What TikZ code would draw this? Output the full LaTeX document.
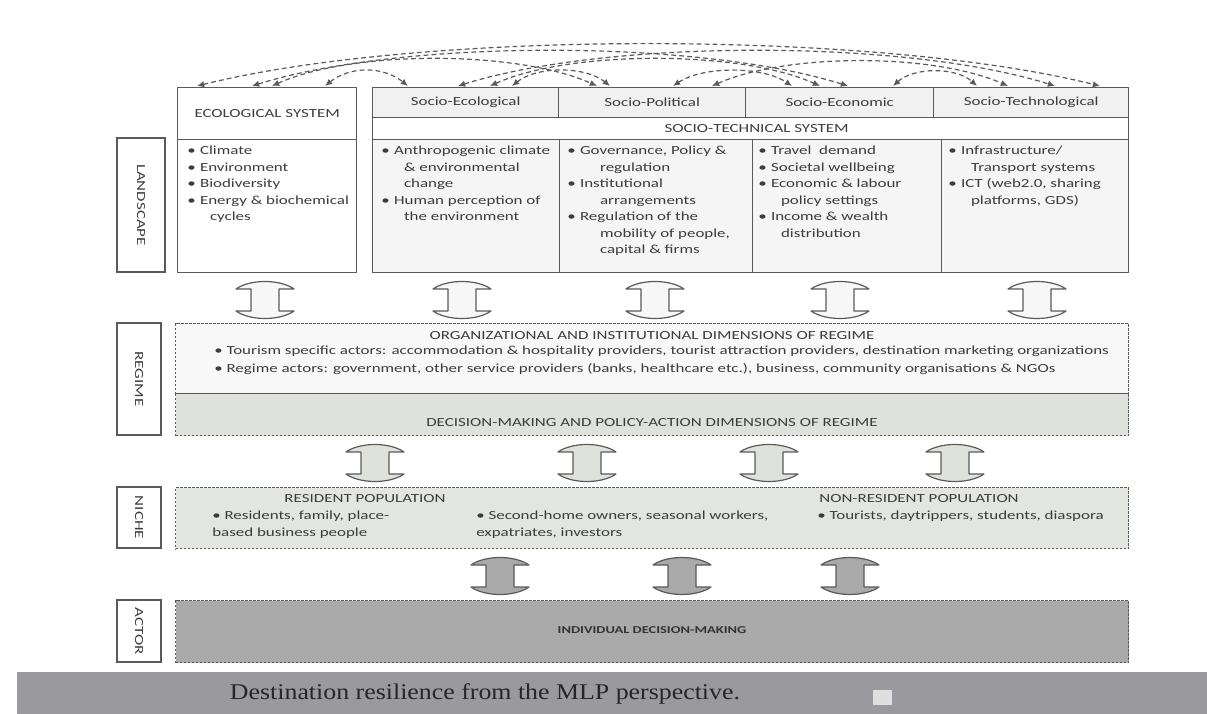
\documentclass[tikz,border=0pt]{standalone}
\usepackage{fontspec}
\setmainfont{Carlito}[FakeStretch=1.37]
\newfontfamily\capfont{Liberation Serif}[FakeStretch=1.15]
\usetikzlibrary{arrows.meta,calc}

\definecolor{boxline}{HTML}{5A5A5A}
\definecolor{txt}{HTML}{3C3C3C}
\definecolor{headfill}{HTML}{F1F1F1}
\definecolor{cellfill}{HTML}{F5F5F5}
\definecolor{orgfill}{HTML}{F8F8F8}
\definecolor{decfill}{HTML}{DFE1DC}
\definecolor{nichefill}{HTML}{E3E5E0}
\definecolor{actorfill}{HTML}{AAAAAA}
\definecolor{barfill}{HTML}{9A999E}

\begin{document}
\begin{tikzpicture}[x=0.25mm, y=-0.25mm, font=\fontsize{8.8}{11.7}\selectfont, text=txt,
  cell/.style={draw=boxline, line width=0.35mm, anchor=north west, inner sep=0pt},
  layer/.style={draw=boxline, line width=0.3mm, rotate=-90, inner sep=0pt},
  zone/.style={draw=gray!70!black, dash pattern=on 0.6mm off 0.4mm, line width=0.3mm, anchor=north west, inner sep=0pt},
  list/.style={anchor=north west, inner sep=0pt, align=left},
  link/.style={draw=boxline, dash pattern=on 1.2mm off 0.8mm, line width=0.3mm, {Latex[length=1.8mm,width=1.6mm]}-{Latex[length=1.8mm,width=1.6mm]}},
  flow/.style={draw=boxline, line width=0.3mm, line join=round}
]
\useasboundingbox (0,0) rectangle (1207,714);

% layer labels
\node[layer, minimum width=33.5mm, minimum height=12mm] (landscape) at (141,205) {LANDSCAPE};
\node[layer, minimum width=28mm, minimum height=11mm] (regime) at (139,379) {REGIME};
\node[layer, minimum width=15.25mm, minimum height=11mm] (niche) at (139,517.5) {NICHE};
\node[layer, minimum width=15.5mm, minimum height=11mm] (actor) at (139,631) {ACTOR};

% landscape
\node[cell, minimum width=44.75mm, minimum height=13mm] (ecoH) at (177,87) {\raisebox{-0.6mm}{ECOLOGICAL SYSTEM}};
\node[cell, minimum width=44.75mm, minimum height=33.25mm] (ecoB) at (177,139) {};
\node[cell, fill=headfill, minimum width=46.5mm, minimum height=7.5mm] (seH) at (372,87) {Socio-Ecological};
\node[cell, fill=headfill, minimum width=46.75mm, minimum height=7.5mm] (spH) at (558,87) {Socio-Political};
\node[cell, fill=headfill, minimum width=47mm, minimum height=7.5mm] (snH) at (745,87) {Socio-Economic};
\node[cell, fill=headfill, minimum width=48.75mm, minimum height=7.5mm] (stH) at (933,87) {Socio-Technological};
\node[cell, fill=white, minimum width=189mm, minimum height=5.5mm] (sts) at (372,117) {\hspace{3mm}SOCIO-TECHNICAL SYSTEM};
\node[cell, fill=cellfill, minimum width=46.75mm, minimum height=33.25mm] (seB) at (372,139) {};
\node[cell, fill=cellfill, minimum width=48.25mm, minimum height=33.25mm] (spB) at (559,139) {};
\node[cell, fill=cellfill, minimum width=47.25mm, minimum height=33.25mm] (snB) at (752,139) {};
\node[cell, fill=cellfill, minimum width=46.75mm, minimum height=33.25mm] (stB) at (941,139) {};

\node[list] (ecoL) at ($(ecoB.north west)+(10,4)$) {\begin{tabular}{@{}l@{\hspace{0.35em}}l@{}}
\textbullet & Climate\\ \textbullet & Environment\\ \textbullet & Biodiversity\\
\textbullet & Energy \& biochemical\\ & \hspace{2.5mm}cycles\end{tabular}};
\node[list] (seL) at ($(seB.north west)+(9,4)$) {\begin{tabular}{@{}l@{\hspace{0.35em}}l@{}}
\textbullet & Anthropogenic climate\\ & \hspace{2.5mm}\& environmental\\ & \hspace{2.5mm}change\\
\textbullet & Human perception of\\ & \hspace{2.5mm}the environment\end{tabular}};
\node[list] (spL) at ($(spB.north west)+(8,4)$) {\begin{tabular}{@{}l@{\hspace{0.35em}}l@{}}
\textbullet & Governance, Policy \&\\ & \hspace{5mm}regulation\\ \textbullet & Institutional\\ & \hspace{5mm}arrangements\\
\textbullet & Regulation of the\\ & \hspace{5mm}mobility of people,\\ & \hspace{5mm}capital \& firms\end{tabular}};
\node[list] (snL) at ($(snB.north west)+(6,4)$) {\begin{tabular}{@{}l@{\hspace{0.35em}}l@{}}
\textbullet & Travel\ \ demand\\ \textbullet & Societal wellbeing\\
\textbullet & Economic \& labour\\ & \hspace{2.5mm}policy settings\\
\textbullet & Income \& wealth\\ & \hspace{2.5mm}distribution\end{tabular}};
\node[list] (stL) at ($(stB.north west)+(7,4)$) {\begin{tabular}{@{}l@{\hspace{0.35em}}l@{}}
\textbullet & Infrastructure/\\ & \hspace{2.5mm}Transport systems\\
\textbullet & ICT (web2.0, sharing\\ & \hspace{2.5mm}platforms, GDS)\end{tabular}};

% interactions between the systems
\foreach \a/\da/\b/\db/\h/\c in {ecoH/148/seH/36/20/25, ecoH/95/spH/39/36/80,
    ecoH/75/snH/103/47/150, ecoH/20/stH/167/56/225, seH/140/spH/52/20/25,
    seH/118/snH/75/36/80, seH/86/stH/122/47/150, spH/115/snH/47/20/30,
    spH/154/stH/75/33/75, snH/148/stH/44/19/21}
  \draw[link] ($(\a.north west)+(\da,-1)$) .. controls +(\c,-\h) and +(-\c,-\h) .. ($(\b.north west)+(\db,-1)$);

% regime
\node[zone, fill=orgfill, minimum width=238.25mm, minimum height=17.5mm] (org) at (175,323) {};
\node[zone, fill=decfill, minimum width=238.25mm, minimum height=10.5mm] (dec) at (175,393) {};
\node (orgT) at (652,336) {ORGANIZATIONAL AND INSTITUTIONAL DIMENSIONS OF REGIME};
\node[list, font=\fontsize{8.8}{12.8}\selectfont] (orgL) at (214,346) {\textbullet\ Tourism specific actors: accommodation \& hospitality providers, tourist attraction providers, destination marketing organizations\\
\textbullet\ Regime actors: government, other service providers (banks, healthcare etc.), business, community organisations \& NGOs};
\node (decT) at (652,423) {DECISION-MAKING AND POLICY-ACTION DIMENSIONS OF REGIME};

% niche
\node[zone, fill=nichefill, minimum width=238.25mm, minimum height=15.25mm] (pop) at (175,487) {};
\node (resT) at (365,499) {RESIDENT POPULATION};
\node (nresT) at (919,499) {NON-RESIDENT POPULATION};
\node[list] (resL) at (212,511) {\textbullet\ Residents, family, place-\\based business people};
\node[list] (secL) at (476,511) {\textbullet\ Second-home owners, seasonal workers,\\expatriates, investors};
\node[list] (nresL) at (817,511) {\textbullet\ Tourists, daytrippers, students, diaspora};

% actor
\node[zone, fill=actorfill, minimum width=238.25mm, minimum height=15.5mm] (ind) at (175,600) {};
\node[font=\fontsize{7.5}{9}\selectfont\bfseries, text=black!80] (indT) at (652,630) {INDIVIDUAL DECISION-MAKING};

% block arrows between levels
\foreach \x [count=\i] in {265,462,655,840,1037} {
  \coordinate (up\i) at (\x,300);
  \draw[flow, fill=white!97!black, shift={(up\i)}] (-14,-11) -- (-29,-11) .. controls (-15,-21) and (15,-21) .. (29,-11) -- (14,-11) -- (14,11) -- (29,11) .. controls (15,21) and (-15,21) .. (-29,11) -- (-14,11) -- cycle;
}
\foreach \x [count=\i] in {375,587,769,955} {
  \coordinate (mid\i) at (\x,463);
  \draw[flow, fill=decfill, shift={(mid\i)}] (-14,-11) -- (-29,-11) .. controls (-15,-21) and (15,-21) .. (29,-11) -- (14,-11) -- (14,11) -- (29,11) .. controls (15,21) and (-15,21) .. (-29,11) -- (-14,11) -- cycle;
}
\foreach \x [count=\i] in {500,682,850} {
  \coordinate (low\i) at (\x,576);
  \draw[flow, fill=actorfill, shift={(low\i)}] (-14,-11) -- (-29,-11) .. controls (-15,-21) and (15,-21) .. (29,-11) -- (14,-11) -- (14,11) -- (29,11) .. controls (15,21) and (-15,21) .. (-29,11) -- (-14,11) -- cycle;
}

% caption
\fill[barfill] (17,672) rectangle (1207,714);
\node[anchor=west, font=\capfont\fontsize{16}{18}\selectfont, text=black!85] (cap) at (225,694) {Destination resilience from the MLP perspective.};
\fill[gray!25] (873,690) rectangle (892,705);
\end{tikzpicture}
\end{document}
